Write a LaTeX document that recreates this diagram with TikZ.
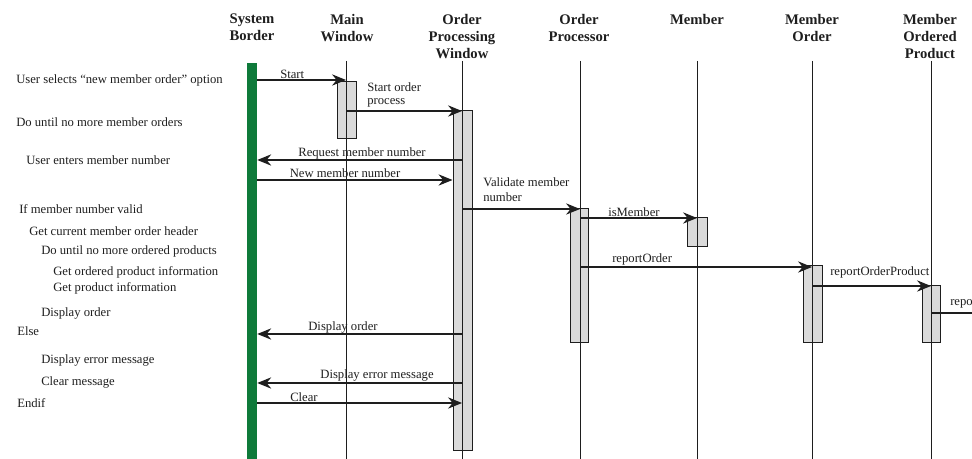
\documentclass[tikz,border=0pt]{standalone}
\usepackage{fontspec}
\setmainfont{Liberation Serif}
\usetikzlibrary{arrows.meta,fit}
\definecolor{sbgreen}{RGB}{14,122,58}
\definecolor{actgray}{RGB}{218,218,218}
\definecolor{inkc}{RGB}{30,30,30}
\begin{document}
\begin{tikzpicture}[x=0.75pt,y=-0.75pt,
  hdr/.style={font=\fontsize{11}{12.75}\selectfont\bfseries, align=center, inner sep=0pt, anchor=north, text=inkc},
  txt/.style={font=\fontsize{9.5}{11}\selectfont, inner sep=0pt, anchor=west, text=inkc},
  lbl/.style={font=\fontsize{9.5}{11}\selectfont, inner sep=0pt, text=inkc},
  lifeline/.style={line width=0.75pt, draw=inkc},
  act/.style={draw=inkc, fill=actgray, line width=0.75pt, inner sep=0pt},
  msg/.style={-{Stealth[length=10.5pt,width=8.5pt,inset=3.5pt]}, line width=0.9pt, draw=inkc},
]
\useasboundingbox (0,0) rectangle (972,459);
\clip (0,0) rectangle (972,459);

% headers
\node[hdr] (hSB)  at (252,14) {System\\Border};
\node[hdr] (hMW)  at (347,14) {Main\\Window};
\node[hdr] (hOPW) at (462,14) {Order\\Processing\\Window};
\node[hdr] (hOP)  at (579,14) {Order\\Processor};
\node[hdr] (hM)   at (697,14) {Member};
\node[hdr] (hMO)  at (812,14) {Member\\Order};
\node[hdr] (hMOP) at (930,14) {Member\\Ordered\\Product};

% lifeline tops and bottoms
\coordinate (lMW)  at (346,61);
\coordinate (lOPW) at (462,61);
\coordinate (lOP)  at (580,61);
\coordinate (lM)   at (697,61);
\coordinate (lMO)  at (812,61);
\coordinate (lMOP) at (931,61);
\coordinate (bot) at (0,460);

% system border bar
\node[fit={(247,63) (257,460)}, fill=sbgreen, inner sep=0pt] (sbar) {};

% activation boxes
\node[act, fit={(337,82) (356,139)}] (aMW) {};
\node[act, fit={(453,111) (472,451)}] (aOPW) {};
\node[act, fit={(570,209) (588,343)}] (aOP) {};
\node[act, fit={(687,218) (707,247)}] (aM) {};
\node[act, fit={(803,266) (822,343)}] (aMO) {};
\node[act, fit={(922,286) (940,343)}] (aMOP) {};

% lifelines
\foreach \l in {lMW,lOPW,lOP,lM,lMO,lMOP}
  \draw[lifeline] (\l) -- (\l |- bot);

% left narrative
\node[txt] (t1)  at (16,80)  {User selects ``new member order'' option};
\node[txt] (t2)  at (16,122) {Do until no more member orders};
\node[txt] (t3)  at (26,160) {User enters member number};
\node[txt] (t4)  at (19,209) {If member number valid};
\node[txt] (t5)  at (29,231) {Get current member order header};
\node[txt] (t6)  at (41,251) {Do until no more ordered products};
\node[txt] (t7)  at (53,272) {Get ordered product information};
\node[txt] (t8)  at (53,288) {Get product information};
\node[txt] (t9)  at (41,313) {Display order};
\node[txt] (t10) at (17,331) {Else};
\node[txt] (t11) at (41,360) {Display error message};
\node[txt] (t12) at (41,382) {Clear message};
\node[txt] (t13) at (17,403) {Endif};

% message rows
\coordinate (r1) at (0,80);
\coordinate (r2) at (0,111);
\coordinate (r3) at (0,160);
\coordinate (r4) at (0,180);
\coordinate (r5) at (0,209);
\coordinate (r6) at (0,218);
\coordinate (r7) at (0,267);
\coordinate (r8) at (0,286);
\coordinate (r9) at (0,313);
\coordinate (r10) at (0,334);
\coordinate (r11) at (0,383);
\coordinate (r12) at (0,403);
\coordinate (redge) at (975,313);

% messages
\draw[msg] (sbar.east |- r1) -- (lMW |- r1);
\draw[msg] (lMW |- r2) -- (lOPW |- r2);
\draw[msg] (lOPW |- r3) -- (sbar.east |- r3);
\draw[msg] (sbar.east |- r4) -- (aOPW.west |- r4);
\draw[msg] (lOPW |- r5) -- (lOP |- r5);
\draw[msg] (lOP |- r6) -- (lM |- r6);
\draw[msg] (lOP |- r7) -- (lMO |- r7);
\draw[msg] (lMO |- r8) -- (lMOP |- r8);
\draw[lifeline, line width=0.9pt] (lMOP |- r9) -- (redge);
\draw[msg] (lOPW |- r10) -- (sbar.east |- r10);
\draw[msg] (lOPW |- r11) -- (sbar.east |- r11);
\draw[msg] (sbar.east |- r12) -- (lOPW |- r12);

% message labels
\node[lbl, anchor=west] (m1) at (280,74) {Start};
\node[lbl, anchor=north west, align=left, font=\fontsize{9.5}{9.75}\selectfont] (m2) at (367,82) {Start order\\process};
\node[lbl] (m3) at (362,153) {Request member number};
\node[lbl] (m4) at (345,173) {New member number};
\node[lbl, anchor=north west, align=left, font=\fontsize{9.5}{11.25}\selectfont] (m5) at (483,177) {Validate member\\number};
\node[lbl, anchor=west] (m6) at (608,212) {isMember};
\node[lbl, anchor=west] (m7) at (612,259) {reportOrder};
\node[lbl, anchor=west] (m8) at (830,272) {reportOrderProduct};
\node[lbl, anchor=west] (m9) at (950,302) {reportProduct};
\node[lbl] (m10) at (343,327) {Display order};
\node[lbl] (m11) at (377,375) {Display error message};
\node[lbl, anchor=west] (m12) at (290,397) {Clear};
\end{tikzpicture}
\end{document}
